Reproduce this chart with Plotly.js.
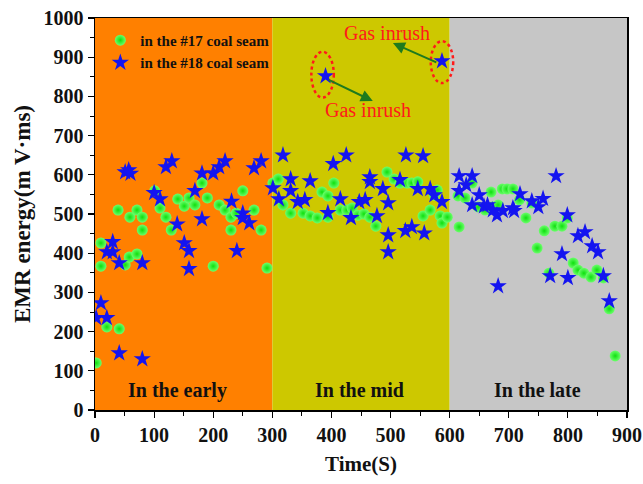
<!DOCTYPE html>
<html>
<head>
<meta charset="utf-8">
<script src="https://cdn.plot.ly/plotly-3.0.1.min.js"></script>
<style>html,body{margin:0;padding:0;background:#fff;}#chart{width:643px;height:484px;}</style>
</head>
<body>
<div id="chart"></div>
<script>
// #17 coal seam (green spheres)
var seam17Time = [2,10,10,20,41,39,51,58,59,71,71,80,80,101,110,120,129,140,151,159,169,181,190,200,210,220,230,230,239,250,269,281,291,
  301,310,318,331,352,364,376,384,394,394,404,415,426,435,445,455,465,475,494,506,516,528,536,546,555,567,574,579,584,587,596,
  614,616,626,638,648,660,670,672,682,689,697,707,718,729,739,748,760,768,778,790,799,809,817,827,839,849,860,870,880];
var seam17EMR = [120,426,367,212,207,510,370,390,492,398,510,492,459,559,515,492,459,538,520,541,523,579,541,367,523,510,492,459,502,559,510,459,362,
  579,589,523,502,502,495,490,556,546,492,579,510,510,515,497,500,492,469,607,589,579,579,579,582,495,510,548,561,495,477,492,
  546,467,541,579,518,510,556,518,523,564,564,564,536,490,528,413,457,349,469,469,490,375,357,349,339,357,337,258,138];

// #18 coal seam (blue stars)
var seam18Time = [2,10,20,20,30,30,41,41,51,57,60,80,80,100,110,120,130,139,151,159,159,169,181,181,200,210,220,231,240,250,250,261,269,281,
  301,311,318,331,331,343,355,364,390,394,403,415,425,433,447,457,465,465,477,487,496,496,496,516,525,526,536,546,555,557,567,574,587,587,
  616,638,628,616,650,638,658,664,673,680,690,707,709,719,739,750,758,780,799,817,829,841,851,790,682,770,800,860,870];
var seam18EMR = [235,273,235,403,429,403,375,145,607,612,603,375,130,554,538,620,635,474,426,406,360,559,604,487,604,620,635,532,406,502,490,477,617,635,
  566,538,650,589,559,531,536,584,852,503,628,538,650,490,531,536,594,582,495,564,528,446,403,587,457,650,467,564,648,451,564,548,531,890,
  597,597,574,559,548,523,520,523,510,497,508,515,508,551,533,518,539,597,497,444,454,418,403,398,316,342,337,342,278];

// stage bands and labels
var stageStart = [0, 300, 600];
var stageEnd = [300, 600, 900];
var stageColor = ['#ff8000', '#cdc800', '#c6c6c6'];
var stageLabel = ['In the early', 'In the mid', 'In the late'];
var stageLabelX = [140, 448, 748];
var stageLabelY = 51;

// gas inrush markers: ellipse bounds, arrow tail/head, text positions
var ellipseX0 = [366, 568], ellipseX1 = [404, 606];
var ellipseY0 = [797, 834], ellipseY1 = [914, 941];
var arrowTailX = [393, 580], arrowTailY = [844, 885];
var arrowHeadX = [470, 504], arrowHeadY = [788, 936];
var inrushTextX = [462, 494], inrushTextY = [765, 962];

var serif = 'Liberation Serif, Times New Roman, serif';

var traces = [
  {x: seam17Time, y: seam17EMR, type: 'scatter', mode: 'markers', name: 'in the #17 coal seam',
   marker: {symbol: 'circle', size: 11, color: '#6cff6c', gradient: {type: 'radial', color: '#0ee00e'}, line: {width: 0}}},
  {x: seam18Time, y: seam18EMR, type: 'scatter', mode: 'markers', name: 'in the #18 coal seam',
   marker: {symbol: 'star', size: 13, color: '#1414f0', line: {width: 0}}}
];

var shapes = [];
for (var i = 0; i < stageStart.length; i++) {
  shapes.push({type: 'rect', xref: 'x', yref: 'paper', x0: stageStart[i], x1: stageEnd[i], y0: 0, y1: 1,
    fillcolor: stageColor[i], line: {width: 0}, layer: 'below'});
}
for (var j = 0; j < ellipseX0.length; j++) {
  shapes.push({type: 'circle', xref: 'x', yref: 'y', x0: ellipseX0[j], x1: ellipseX1[j], y0: ellipseY0[j], y1: ellipseY1[j],
    line: {color: '#ff1a1a', width: 2.5, dash: 'dot'}, fillcolor: 'rgba(0,0,0,0)'});
}

var annotations = [];
for (var k = 0; k < stageLabel.length; k++) {
  annotations.push({x: stageLabelX[k], y: stageLabelY, xref: 'x', yref: 'y', text: stageLabel[k], showarrow: false,
    font: {family: serif, size: 20, color: '#111', weight: 'bold'}});
}
for (var m = 0; m < arrowTailX.length; m++) {
  annotations.push({x: arrowHeadX[m], y: arrowHeadY[m], ax: arrowTailX[m], ay: arrowTailY[m], xref: 'x', yref: 'y',
    axref: 'x', ayref: 'y', text: '', showarrow: true, arrowhead: 2, arrowsize: 1.2, arrowwidth: 2, arrowcolor: '#1e7a1e'});
  annotations.push({x: inrushTextX[m], y: inrushTextY[m], xref: 'x', yref: 'y', text: 'Gas inrush', showarrow: false,
    font: {family: serif, size: 20, color: '#ff1a1a'}});
}

var layout = {
  width: 643, height: 484,
  margin: {l: 95, r: 16, t: 18, b: 74},
  paper_bgcolor: '#ffffff', plot_bgcolor: '#ffffff',
  showlegend: true,
  legend: {x: 0.01, y: 0.985, xanchor: 'left', yanchor: 'top', bgcolor: 'rgba(0,0,0,0)',
    font: {family: serif, size: 15, color: '#111', weight: 'bold'}, itemwidth: 30},
  xaxis: {range: [0, 900], dtick: 100, tick0: 0, showgrid: false, zeroline: false,
    showline: true, linecolor: '#000', linewidth: 1.5, mirror: true,
    ticks: 'outside', ticklen: 6, tickwidth: 1.2, tickcolor: '#000',
    minor: {dtick: 50, ticks: 'outside', ticklen: 4, tickwidth: 1, tickcolor: '#000'},
    tickfont: {family: serif, size: 20, color: '#111', weight: 'bold'},
    title: {text: 'Time(S)', font: {family: serif, size: 21, color: '#111', weight: 'bold'}, standoff: 12}},
  yaxis: {range: [0, 1000], dtick: 100, tick0: 0, showgrid: false, zeroline: false,
    showline: true, linecolor: '#000', linewidth: 1.5, mirror: true,
    ticks: 'outside', ticklen: 6, tickwidth: 1.2, tickcolor: '#000',
    minor: {dtick: 50, ticks: 'outside', ticklen: 4, tickwidth: 1, tickcolor: '#000'},
    tickfont: {family: serif, size: 20, color: '#111', weight: 'bold'},
    title: {text: 'EMR energy(m V·ms)', font: {family: serif, size: 23, color: '#111', weight: 'bold'}, standoff: 6}},
  shapes: shapes,
  annotations: annotations
};

Plotly.newPlot('chart', traces, layout, {displayModeBar: false, staticPlot: true});
</script>
</body>
</html>
